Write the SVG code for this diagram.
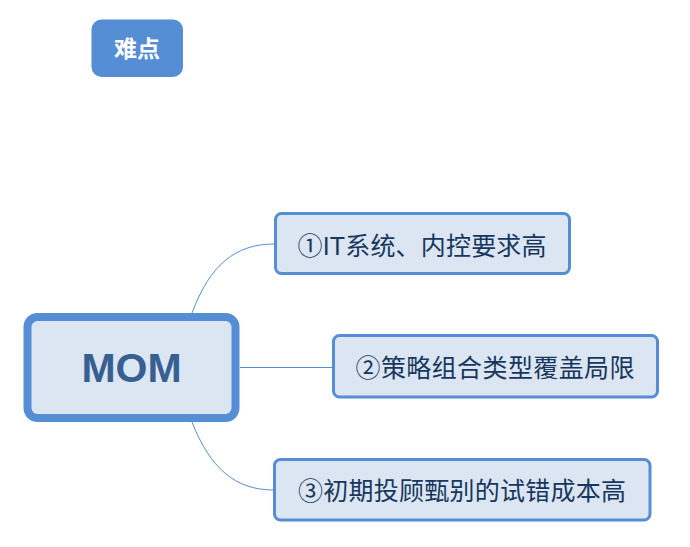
<svg xmlns="http://www.w3.org/2000/svg" width="690" height="547" viewBox="0 0 690 547">
<style>
.sub rect{fill:#DCE6F2;stroke:#558ED5;stroke-width:3}
.sub text{font-family:"Liberation Sans","Noto Sans CJK SC",sans-serif;font-size:25px;fill:#17375E;text-anchor:middle}
.conn path{fill:none;stroke:#558ED5;stroke-width:1}
</style>
<rect width="690" height="547" fill="#FFFFFF"/>
<g id="title">
<rect x="91.5" y="19.5" width="91.5" height="57.5" rx="10" fill="#558ED5"/>
<text x="137" y="57" font-family="'Noto Sans CJK SC',sans-serif" font-size="23" font-weight="bold" fill="#FFFFFF" text-anchor="middle">难点</text>
</g>
<g class="conn" id="connectors">
<path d="M192,313 C210,265 235,244 274.5,244"/>
<path d="M240,367.5 L332,367.5"/>
<path d="M192,422 C210,468 235,490 273.5,490"/>
</g>
<g id="root">
<rect x="27.5" y="317" width="208" height="101" rx="10" fill="#DCE6F2" stroke="#558ED5" stroke-width="8"/>
<text x="131.5" y="382" font-family="'Liberation Sans','Noto Sans',sans-serif" font-size="41" font-weight="bold" fill="#376092" text-anchor="middle">MOM</text>
</g>
<g id="n1" class="sub">
<rect x="275.5" y="213.5" width="294" height="60" rx="6"/>
<text x="422" y="255" textLength="249" lengthAdjust="spacing">①IT系统、内控要求高</text>
</g>
<g id="n2" class="sub">
<rect x="333.5" y="335.5" width="324" height="61.5" rx="6"/>
<text x="495" y="377" textLength="279" lengthAdjust="spacing">②策略组合类型覆盖局限</text>
</g>
<g id="n3" class="sub">
<rect x="274.5" y="459.5" width="375.5" height="60.5" rx="6"/>
<text x="462" y="500" textLength="328" lengthAdjust="spacing">③初期投顾甄别的试错成本高</text>
</g>
</svg>
